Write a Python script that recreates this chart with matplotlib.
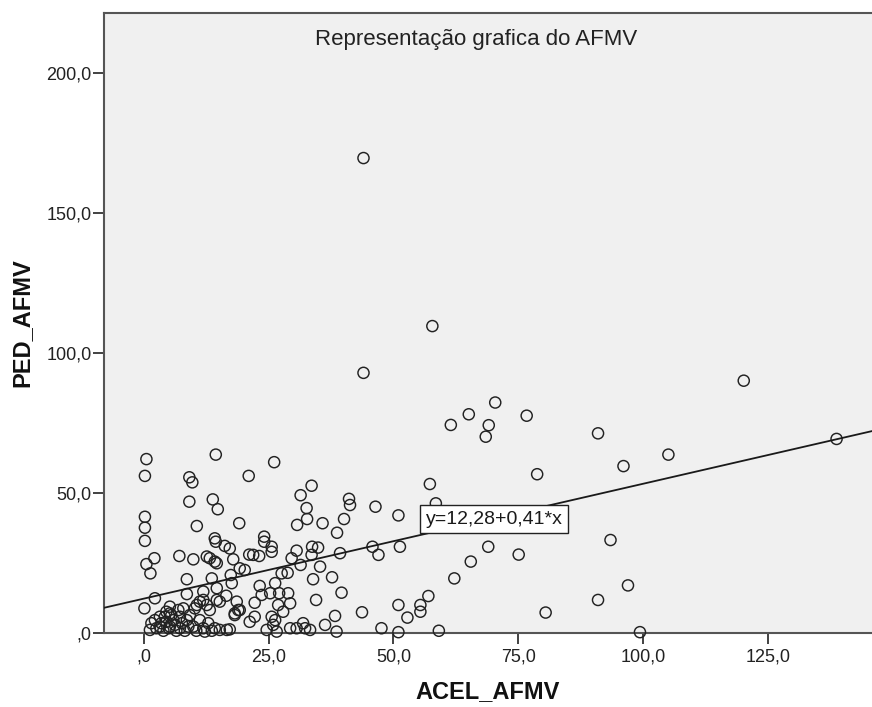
import numpy as np
import matplotlib
matplotlib.use("Agg")
import matplotlib.pyplot as plt

plt.rcParams['font.family'] = ['Liberation Sans', 'DejaVu Sans']

# Valeurs (ACEL_AFMV, PED_AFMV)
acel = [44.0, 57.8, 44.0, 120.2, 70.4, 65.1, 76.7, 61.5, 69.1, 68.5, 91.0, 138.8,
        105.1, 96.1, 78.8, 57.3, 58.5, 51.0, 51.3, 69.0, 93.5, 65.5, 75.1, 62.2,
        57.0, 55.4, 55.4, 51.0, 52.8, 51.0, 59.1, 80.5, 91.0, 97.0, 99.4,
        26.1, 21.0, 33.6, 31.4, 32.6, 32.7, 30.7, 35.8, 41.1, 41.3, 46.4, 40.1,
        38.7, 19.1, 24.1, 24.1, 25.6, 25.6, 21.1, 23.1, 21.9, 17.9, 17.2, 19.2,
        20.2, 17.6, 30.6, 29.6, 33.7, 34.9, 33.6, 31.4, 35.3, 39.3, 45.8, 47.0,
        27.6, 28.8, 33.9, 37.7, 26.3, 23.2, 23.6, 25.3, 27.1, 28.9, 39.6, 34.5,
        29.3, 26.9, 22.2, 18.6, 19.2, 18.2, 27.9, 22.2, 21.2, 25.6, 38.3, 43.7,
        47.6, 38.6, 36.3, 31.9, 32.3, 33.3, 29.3, 26.6, 17.2, 16.5,
        0.5, 0.2, 14.4, 9.1, 9.7, 9.1, 13.8, 14.8, 0.2, 0.2, 0.2, 10.6, 14.2,
        14.4, 16.2, 14.2, 13.2, 14.6, 2.1, 0.5, 1.3, 7.1, 9.9, 12.6, 8.6, 13.6,
        17.4, 8.6, 11.9, 14.6, 2.2, 0.1, 4.2, 11.9, 11.2, 10.6, 10.2, 12.6,
        13.2, 14.6, 15.2, 18.9, 18.2, 26.3, 25.9, 30.6, 24.6,
        3.2, 4.5, 5.2, 5.9, 6.9, 7.6, 8.6, 9.2, 9.9, 11.2, 11.9, 12.9, 14.2,
        15.2, 16.6, 5.2, 2.5, 3.9, 1.2, 1.5, 6.5, 8.2, 10.5, 12.2, 13.6, 3.5,
        7.2, 6.2, 4.5, 8.9, 7.2, 5.0, 3.2, 5.5, 7.9, 2.2, 5.2]
ped = [169.6, 109.6, 92.9, 90.1, 82.3, 78.1, 77.6, 74.3, 74.2, 70.1, 71.3, 69.3,
       63.7, 59.6, 56.7, 53.2, 46.3, 42.0, 30.8, 30.8, 33.2, 25.5, 28.0, 19.5,
       13.2, 10.0, 7.6, 10.0, 5.5, 0.3, 0.8, 7.3, 11.8, 17.0, 0.3,
       61.0, 56.1, 52.6, 49.2, 44.6, 40.7, 38.6, 39.2, 47.9, 45.7, 45.1, 40.7,
       35.8, 39.2, 34.4, 32.6, 30.8, 29.0, 28.0, 27.5, 27.9, 26.3, 30.2, 23.1,
       22.5, 17.8, 29.4, 26.7, 30.8, 30.5, 27.9, 24.3, 23.7, 28.5, 30.8, 27.9,
       21.3, 21.5, 19.2, 19.9, 17.8, 16.8, 13.6, 14.2, 14.2, 14.2, 14.4, 11.8,
       10.6, 10.0, 10.8, 11.2, 8.2, 7.0, 7.6, 5.8, 4.0, 5.8, 6.1, 7.4,
       1.7, 0.5, 2.9, 3.5, 1.7, 1.1, 1.7, 0.5, 1.3, 13.3,
       62.1, 56.1, 63.7, 55.6, 53.8, 46.9, 47.7, 44.2, 41.5, 37.6, 32.9, 38.2, 33.8,
       32.6, 31.1, 25.5, 26.7, 24.9, 26.7, 24.6, 21.3, 27.5, 26.3, 27.3, 19.2, 19.5,
       20.7, 13.9, 14.8, 16.0, 12.4, 8.8, 5.8, 11.8, 11.2, 10.0, 8.8, 10.0,
       8.2, 11.8, 11.2, 8.2, 6.4, 4.6, 2.9, 1.7, 1.1,
       5.8, 7.6, 9.4, 4.6, 8.2, 3.5, 4.6, 6.4, 2.3, 4.6, 1.7, 3.5, 1.7,
       1.1, 1.1, 2.3, 1.7, 0.8, 1.1, 3.5, 0.8, 0.8, 0.8, 0.5, 0.8, 3.5,
       5.8, 2.9, 4.0, 2.3, 1.7, 1.7, 2.3, 6.4, 8.8, 4.6, 7.0]

# Droite de régression affichée : y = 12,28 + 0,41*x
intercept = 12.28
slope = 0.41

x_ticks = [0, 25, 50, 75, 100, 125]
y_ticks = [0, 50, 100, 150, 200]


def fmt(v):
    s = f"{v:.1f}".replace('.', ',')
    return s[1:] if s.startswith('0') else s


fig = plt.figure(figsize=(8.72, 7.07), dpi=100)
W, H = 872, 707
ax = fig.add_axes([104 / W, (H - 633) / H, (W - 104) / W, (633 - 13) / H])
ax.set_facecolor('#f0f0f0')

xmin, xmax = -8.0, 145.9
ax.set_xlim(xmin, xmax)
ax.set_ylim(0, 221.4)

ax.scatter(acel, ped, s=64, facecolors='none', edgecolors='#222222',
           linewidths=1.05, zorder=3, clip_on=False)

xl = np.array([xmin, xmax])
ax.plot(xl, intercept + slope * xl, color='#1a1a1a', lw=1.3, zorder=4)

# étiquette de l'équation
fig.text(494 / W, (H - 519) / H, 'y=12,28+0,41*x', ha='center', va='center',
         fontsize=14, color='#1a1a1a', zorder=6,
         bbox=dict(boxstyle='square,pad=0.3', fc='white', ec='#222222', lw=1.0))

ax.set_xticks(x_ticks)
ax.set_xticklabels([fmt(v) for v in x_ticks])
ax.set_yticks(y_ticks)
ax.set_yticklabels([fmt(v) for v in y_ticks])
ax.tick_params(direction='out', length=8, width=1.3, colors='#333333',
               labelsize=13, labelcolor='#222222')
ax.tick_params(axis='x', pad=3)
ax.tick_params(axis='y', pad=1)

for side in ['left', 'bottom', 'top']:
    ax.spines[side].set_color('#555555')
    ax.spines[side].set_linewidth(1.5)
ax.spines['right'].set_visible(False)

fig.text(476 / W, (H - 40) / H, 'Representação grafica do AFMV',
         ha='center', va='center', fontsize=16, color='#222222')

fig.text(488 / W, (H - 692) / H, 'ACEL_AFMV', ha='center', va='center',
         fontsize=17, fontweight='bold', color='#111111')
fig.text(22 / W, (H - 323) / H, 'PED_AFMV', ha='center', va='center',
         rotation=90, fontsize=17, fontweight='bold', color='#111111')

fig.savefig('out.png', dpi=100, facecolor='white')
